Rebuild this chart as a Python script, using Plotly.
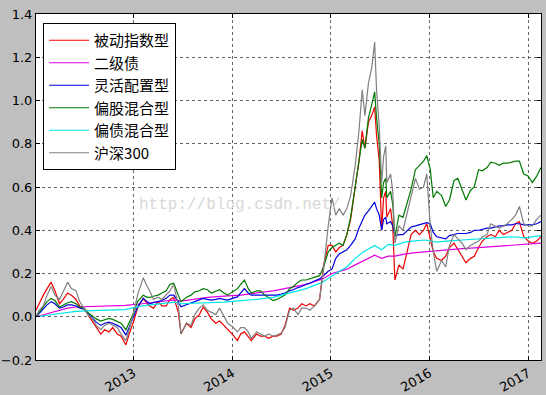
import plotly.graph_objects as go

# ---------------- data ----------------
dates = [
    "2012-01-05", "2012-01-16", "2012-02-01", "2012-02-15", "2012-03-01", "2012-03-15",
    "2012-04-01", "2012-04-15", "2012-05-01", "2012-05-15", "2012-06-01", "2012-06-15",
    "2012-07-01", "2012-07-15", "2012-08-01", "2012-08-15", "2012-09-01", "2012-09-15",
    "2012-10-01", "2012-10-15", "2012-11-01", "2012-11-15", "2012-12-03", "2012-12-15",
    "2013-01-01", "2013-01-15", "2013-02-05", "2013-02-20", "2013-03-01", "2013-03-15",
    "2013-04-01", "2013-04-15", "2013-05-01", "2013-05-15", "2013-05-29", "2013-06-15",
    "2013-06-25", "2013-07-15", "2013-08-01", "2013-08-15", "2013-09-01", "2013-09-15",
    "2013-10-01", "2013-10-15", "2013-11-01", "2013-11-15", "2013-12-01", "2013-12-15",
    "2014-01-01", "2014-01-20", "2014-02-01", "2014-02-15", "2014-03-01", "2014-03-12",
    "2014-04-01", "2014-04-15", "2014-05-01", "2014-05-15", "2014-06-01", "2014-06-15",
    "2014-07-01", "2014-07-15", "2014-08-01", "2014-08-15", "2014-09-01", "2014-09-15",
    "2014-10-01", "2014-10-15", "2014-11-01", "2014-11-20", "2014-12-05", "2014-12-22",
    "2015-01-05", "2015-01-19", "2015-02-01", "2015-02-15", "2015-03-01", "2015-03-15",
    "2015-04-01", "2015-04-15", "2015-04-27", "2015-05-07", "2015-05-20", "2015-06-01",
    "2015-06-12", "2015-06-19", "2015-06-29", "2015-07-08", "2015-07-15", "2015-07-23",
    "2015-07-27", "2015-08-10", "2015-08-18", "2015-08-26", "2015-09-10", "2015-09-25",
    "2015-10-10", "2015-10-25", "2015-11-10", "2015-11-25", "2015-12-10", "2015-12-22",
    "2016-01-04", "2016-01-15", "2016-01-28", "2016-02-15", "2016-03-01", "2016-03-15",
    "2016-04-01", "2016-04-15", "2016-05-01", "2016-05-15", "2016-06-01", "2016-06-15",
    "2016-07-01", "2016-07-15", "2016-08-01", "2016-08-15", "2016-09-01", "2016-09-15",
    "2016-10-01", "2016-10-15", "2016-11-01", "2016-11-15", "2016-11-29", "2016-12-15",
    "2017-01-01", "2017-01-16", "2017-02-01", "2017-02-17",
]

passive_index = [  # 被动指数型
    0.03, 0.06, 0.10, 0.13, 0.16, 0.12, 0.06, 0.08, 0.11, 0.10, 0.08, 0.05,
    0.04, 0.01, -0.02, -0.05, -0.08, -0.06, -0.07, -0.05, -0.08, -0.09, -0.13, -0.08,
    -0.02, 0.04, 0.085, 0.06, 0.05, 0.04, 0.07, 0.05, 0.05, 0.08, 0.09, 0.02,
    -0.08, -0.03, -0.05, -0.01, 0.01, 0.045, 0.02, -0.01, -0.03, -0.02, -0.04, -0.06,
    -0.08, -0.11, -0.08, -0.07, -0.09, -0.11, -0.08, -0.09, -0.09, -0.10, -0.09, -0.09,
    -0.08, -0.04, 0.04, 0.03, 0.04, 0.06, 0.05, 0.06, 0.05, 0.08, 0.24, 0.33,
    0.33, 0.30, 0.32, 0.33, 0.38, 0.45, 0.60, 0.72, 0.86, 0.78, 0.90, 0.93,
    0.97, 0.84, 0.72, 0.40, 0.55, 0.58, 0.46, 0.50, 0.42, 0.17, 0.24, 0.22,
    0.30, 0.38, 0.40, 0.38, 0.40, 0.43,
    0.36, 0.30, 0.27, 0.26, 0.28, 0.32, 0.34, 0.31, 0.28, 0.25, 0.27, 0.28,
    0.32, 0.35, 0.37, 0.38, 0.37, 0.40, 0.38, 0.39, 0.40, 0.43, 0.44, 0.37,
    0.35, 0.34, 0.35, 0.37,
]

flexible = [  # 灵活配置型
    0.0, 0.015, 0.035, 0.055, 0.07, 0.06, 0.04, 0.045, 0.055, 0.055, 0.05, 0.04,
    0.035, 0.015, -0.005, -0.025, -0.04, -0.03, -0.025, -0.03, -0.04, -0.05, -0.085, -0.05,
    0.0, 0.045, 0.085, 0.07, 0.06, 0.065, 0.07, 0.075, 0.085, 0.10, 0.10, 0.07,
    0.046, 0.055, 0.065, 0.07, 0.08, 0.085, 0.08, 0.077, 0.08, 0.085, 0.08, 0.077,
    0.085, 0.092, 0.11, 0.13, 0.11, 0.10, 0.10, 0.10, 0.10, 0.098, 0.10, 0.10,
    0.105, 0.11, 0.12, 0.125, 0.135, 0.14, 0.15, 0.155, 0.165, 0.175, 0.19, 0.21,
    0.22, 0.27, 0.29, 0.30, 0.31, 0.33, 0.36, 0.41, 0.44, 0.47, 0.49, 0.51,
    0.53, 0.50, 0.47, 0.40, 0.45, 0.46, 0.43, 0.44, 0.42, 0.375, 0.38, 0.38,
    0.40, 0.415, 0.42, 0.425, 0.43, 0.435,
    0.43, 0.39, 0.37, 0.365, 0.36, 0.375, 0.38, 0.385, 0.385, 0.385, 0.39, 0.40,
    0.40, 0.405, 0.41, 0.41, 0.415, 0.42, 0.42, 0.425, 0.425, 0.43, 0.43, 0.425,
    0.425, 0.425, 0.43, 0.44,
]

equity_hybrid = [  # 偏股混合型
    0.0, 0.02, 0.05, 0.07, 0.085, 0.075, 0.045, 0.055, 0.065, 0.07, 0.06, 0.045,
    0.04, 0.02, 0.005, -0.01, -0.02, -0.015, -0.008, -0.012, -0.02, -0.03, -0.06, -0.03,
    0.02, 0.07, 0.10, 0.09, 0.09, 0.095, 0.10, 0.11, 0.12, 0.15, 0.155, 0.10,
    0.07, 0.09, 0.10, 0.115, 0.12, 0.13, 0.125, 0.11, 0.12, 0.125, 0.11, 0.10,
    0.115, 0.13, 0.15, 0.17, 0.13, 0.11, 0.12, 0.12, 0.10, 0.09, 0.075, 0.08,
    0.09, 0.10, 0.13, 0.14, 0.16, 0.17, 0.17, 0.175, 0.18, 0.19, 0.23, 0.30,
    0.32, 0.33, 0.34, 0.33, 0.38, 0.46, 0.60, 0.72, 0.82, 0.78, 0.92, 0.98,
    1.04, 0.92, 0.80, 0.55, 0.62, 0.64, 0.55, 0.58, 0.52, 0.37, 0.47, 0.46,
    0.52, 0.59, 0.68, 0.70, 0.72, 0.745,
    0.68, 0.55, 0.58, 0.56, 0.51, 0.54, 0.63, 0.64, 0.59, 0.54, 0.585, 0.60,
    0.68, 0.675, 0.69, 0.715, 0.71, 0.70, 0.71, 0.71, 0.715, 0.72, 0.72, 0.66,
    0.65, 0.62, 0.65, 0.69,
]

hs300 = [  # 沪深300
    0.0, 0.03, 0.05, 0.10, 0.14, 0.10, 0.08, 0.12, 0.16, 0.13, 0.12, 0.07,
    0.04, 0.01, -0.01, -0.04, -0.06, -0.04, -0.03, -0.04, -0.05, -0.08, -0.11, -0.06,
    0.02, 0.10, 0.18, 0.14, 0.12, 0.08, 0.09, 0.08, 0.10, 0.12, 0.15, 0.05,
    -0.08, -0.03, -0.04, 0.01, 0.04, 0.055, 0.03, 0.02, 0.01, 0.04, 0.0, -0.03,
    -0.045, -0.07, -0.05, -0.05, -0.07, -0.10, -0.07, -0.08, -0.09, -0.08, -0.09, -0.085,
    -0.075, -0.05, 0.03, 0.04, 0.01, 0.04, 0.04, 0.03, 0.05, 0.08, 0.22, 0.42,
    0.55, 0.47, 0.50, 0.47, 0.50, 0.56, 0.70, 0.86, 1.05, 0.93, 1.08, 1.15,
    1.27, 1.05, 0.88, 0.62, 0.74, 0.79, 0.62, 0.66, 0.58, 0.34, 0.42, 0.40,
    0.48, 0.56, 0.64, 0.59, 0.60, 0.66,
    0.42, 0.30, 0.21, 0.26, 0.23, 0.33, 0.38, 0.36, 0.34, 0.31, 0.33, 0.34,
    0.35, 0.37, 0.38, 0.43, 0.42, 0.41, 0.42, 0.43, 0.45, 0.47, 0.51, 0.43,
    0.42, 0.42, 0.45, 0.47,
]

bond_dates = [
    "2012-01-05", "2012-02-01", "2012-03-01", "2012-04-01", "2012-05-01", "2012-06-01",
    "2012-08-01", "2012-10-01", "2012-12-01", "2013-02-01", "2013-04-01", "2013-06-01",
    "2013-06-25", "2013-08-01", "2013-10-01", "2013-12-01", "2014-02-01", "2014-04-01",
    "2014-06-01", "2014-08-01", "2014-10-01", "2014-12-01", "2015-01-05", "2015-02-01",
    "2015-03-01", "2015-04-01", "2015-05-01", "2015-06-12", "2015-07-08", "2015-08-01",
    "2015-08-26", "2015-10-01", "2015-11-01", "2015-12-15", "2016-01-28", "2016-03-01",
    "2016-05-01", "2016-07-01", "2016-09-01", "2016-11-01", "2016-12-20", "2017-01-15",
    "2017-02-17",
]

secondary_bond = [  # 二级债
    0.0, 0.01, 0.02, 0.03, 0.04, 0.045, 0.047, 0.05, 0.053, 0.06, 0.07, 0.078,
    0.072, 0.08, 0.09, 0.095, 0.10, 0.11, 0.12, 0.135, 0.15, 0.175, 0.20, 0.21,
    0.22, 0.24, 0.26, 0.285, 0.27, 0.28, 0.28, 0.29, 0.295, 0.30, 0.305, 0.31,
    0.315, 0.32, 0.325, 0.33, 0.335, 0.335, 0.34,
]

bond_hybrid = [  # 偏债混合型
    0.0, 0.005, 0.01, 0.015, 0.02, 0.025, 0.028, 0.03, 0.033, 0.05, 0.06, 0.068,
    0.06, 0.062, 0.065, 0.068, 0.075, 0.08, 0.09, 0.11, 0.13, 0.16, 0.19, 0.21,
    0.23, 0.27, 0.30, 0.33, 0.31, 0.335, 0.33, 0.345, 0.35, 0.355, 0.345, 0.35,
    0.355, 0.36, 0.365, 0.37, 0.365, 0.37, 0.375,
]

series_names = ["被动指数型", "二级债", "灵活配置型", "偏股混合型", "偏债混合型", "沪深300"]
series_colors = ["#f00000", "#e000e0", "#0000e0", "#007a00", "#00e6e6", "#808080"]

year_ticks = ["2013-01-01", "2014-01-01", "2015-01-01", "2016-01-01", "2017-01-01"]
year_labels = ["2013", "2014", "2015", "2016", "2017"]
y_ticks = [-0.2, 0.0, 0.2, 0.4, 0.6, 0.8, 1.0, 1.2, 1.4]

# ---------------- figure ----------------
series = [
    (dates, passive_index),
    (bond_dates, secondary_bond),
    (dates, flexible),
    (dates, equity_hybrid),
    (bond_dates, bond_hybrid),
    (dates, hs300),
]

fig = go.Figure()
for (xs, ys), name, color in zip(series, series_names, series_colors):
    fig.add_trace(go.Scatter(
        x=xs, y=ys, name=name, mode="lines",
        line=dict(color=color, width=1.2),
    ))

axis_common = dict(
    showline=True, linecolor="black", linewidth=1, mirror="allticks",
    ticks="inside", ticklen=4, tickcolor="black",
    showgrid=True, gridcolor="#666666", gridwidth=0.7, griddash="dot",
    zeroline=False, automargin=False,
    tickfont=dict(family="DejaVu Sans", size=13, color="black"),
)

fig.update_xaxes(
    type="date", range=["2012-01-05", "2017-02-17"],
    tickvals=year_ticks, ticktext=year_labels, tickangle=-30,
    **axis_common,
)
fig.update_yaxes(
    range=[-0.2, 1.4], tickvals=y_ticks,
    ticktext=[("\u2212" if v < 0 else "") + f"{abs(v):.1f}" for v in y_ticks],
    **axis_common,
)

fig.add_annotation(
    text="http://blog.csdn.net/", xref="paper", yref="paper",
    x=0.2, y=0.448, xanchor="left", yanchor="middle", showarrow=False,
    font=dict(family="Liberation Mono", size=16, color="#d8d8d8"),
)

fig.update_layout(
    width=546, height=395,
    margin=dict(l=36, r=5, t=14, b=35),
    paper_bgcolor="#bfbfbf", plot_bgcolor="white",
    showlegend=True,
    legend=dict(
        x=0.014, y=0.974, xanchor="left", yanchor="top",
        bgcolor="white", bordercolor="black", borderwidth=1,
        font=dict(family="Noto Sans CJK SC", size=15, color="black"),
        itemwidth=40, tracegroupgap=0,
    ),
)

fig.write_html(
    "out.html",
    config={"displayModeBar": False},
    post_script="document.body.style.margin='0';document.body.style.padding='0';"
                "document.body.style.background='#bfbfbf';",
)
